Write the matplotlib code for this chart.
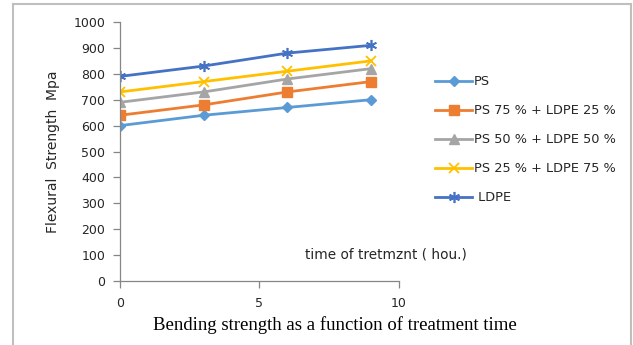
import matplotlib
matplotlib.use('Agg')
import matplotlib.pyplot as plt
from matplotlib.lines import Line2D

# treatment time (hours) and flexural strength (MPa) per blend
hours = [0, 3, 6, 9]
ps = [600, 640, 670, 700]
ps75_ldpe25 = [640, 680, 730, 770]
ps50_ldpe50 = [690, 730, 780, 820]
ps25_ldpe75 = [730, 770, 810, 850]
ldpe = [790, 830, 880, 910]

series_names = ['PS', 'PS 75 % + LDPE 25 %', 'PS 50 % + LDPE 50 %',
                'PS 25 % + LDPE 75 %', ' LDPE']
y_ticks = list(range(0, 1001, 100))
x_ticks = [0, 5, 10]

plt.rcParams['font.family'] = ['DejaVu Sans']

fig = plt.figure(figsize=(6.33, 3.45), dpi=100)
ax = fig.add_axes([0.1896, 0.1855, 0.4407, 0.7507])

styles = [
    dict(color='#5B9BD5', marker='D', ms=5.5),
    dict(color='#ED7D31', marker='s', ms=7),
    dict(color='#A5A5A5', marker='^', ms=7),
    dict(color='#FFC000', marker='x', ms=7, mew=1.3),
    dict(color='#4472C4', marker=(6, 2, 0), ms=8, mew=1.2),
]
for vals, name, st in zip([ps, ps75_ldpe25, ps50_ldpe50, ps25_ldpe75, ldpe],
                          series_names, styles):
    ax.plot(hours, vals, lw=2, label=name, **st)

ax.set_xlim(0, 10)
ax.set_ylim(0, 1000)
ax.set_xticks(x_ticks)
ax.set_yticks(y_ticks)
for side in ('top', 'right'):
    ax.spines[side].set_visible(False)
for side in ('left', 'bottom'):
    ax.spines[side].set_color('#868686')
    ax.spines[side].set_linewidth(0.9)
ax.tick_params(colors='#868686', length=5, width=0.9, labelsize=9,
               labelcolor='#262626', pad=5.5)
ax.tick_params(axis='x', pad=6.5)

ax.set_ylabel('Flexural  Strength  Mpa', fontsize=10, color='#262626')
ax.yaxis.set_label_coords(-0.215, 0.5)
ax.text(6.63, 104, 'time of tretmznt ( hou.)', fontsize=9.8, color='#262626',
        va='center')

ax.legend(loc='upper left', bbox_to_anchor=(430 / 633, 1 - 70 / 345),
          bbox_transform=fig.transFigure, frameon=False, borderaxespad=0,
          fontsize=9.3, labelspacing=1.24, handlelength=2.87, handletextpad=0.15,
          labelcolor='#262626')

fig.text(0.529, 0.058, 'Bending strength as a function of treatment time',
         family='Liberation Serif', fontsize=13.5, ha='center', va='center')

# grey frame around the chart area
frame = dict(color='#BFBFBF', lw=1.5, transform=fig.transFigure)
fig.add_artist(Line2D([13 / 633, 13 / 633], [0, 1 - 4 / 345], **frame))
fig.add_artist(Line2D([13 / 633, 631 / 633], [1 - 4 / 345, 1 - 4 / 345], **frame))
fig.add_artist(Line2D([631 / 633, 631 / 633], [0, 1 - 4 / 345], **frame))

fig.savefig('out.png', dpi=100)
